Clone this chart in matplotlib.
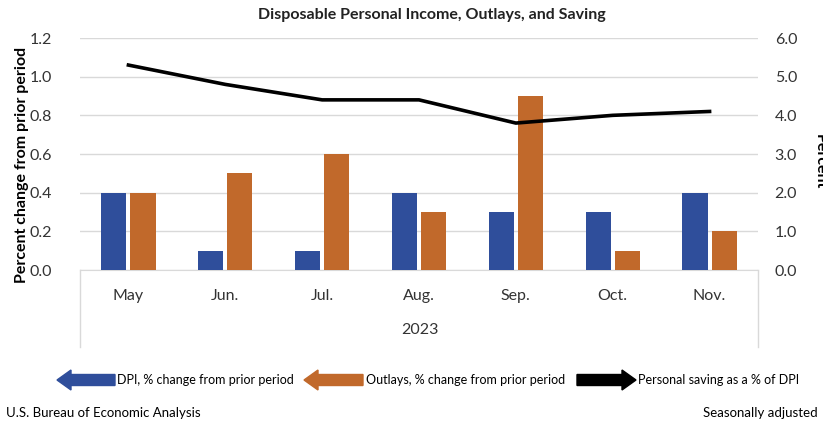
import numpy as np
import matplotlib
matplotlib.use("Agg")
import matplotlib.pyplot as plt
from matplotlib.patches import FancyArrow
from matplotlib.lines import Line2D

plt.rcParams['font.family'] = ['Lato', 'DejaVu Sans']

months = ["May", "Jun.", "Jul.", "Aug.", "Sep.", "Oct.", "Nov."]
year_label = "2023"
dpi_change = [0.4, 0.1, 0.1, 0.4, 0.3, 0.3, 0.4]
outlays_change = [0.4, 0.5, 0.6, 0.3, 0.9, 0.1, 0.2]
saving_rate = [5.3, 4.8, 4.4, 4.4, 3.8, 4.0, 4.1]

left_ticks = [0.0, 0.2, 0.4, 0.6, 0.8, 1.0, 1.2]
right_ticks = [0.0, 1.0, 2.0, 3.0, 4.0, 5.0, 6.0]

BLUE = "#2F4E9B"
ORANGE = "#C1692B"
W, H = 823, 424

fig = plt.figure(figsize=(W / 100, H / 100), dpi=100)
ax = fig.add_axes([80 / W, 1 - 270 / H, 678 / W, 232 / H])
ax2 = ax.twinx()

x = np.arange(len(months))
bw = 0.26
ax.bar(x - bw / 2 - 0.02, dpi_change, bw, color=BLUE, zorder=3)
ax.bar(x + bw / 2 + 0.02, outlays_change, bw, color=ORANGE, zorder=3)
ax2.plot(x, saving_rate, color="black", lw=2.6, zorder=4)

ax.set_xlim(-0.5, len(months) - 0.5)
ax.set_ylim(0, 1.2)
ax2.set_ylim(0, 6.0)
ax.set_yticks(left_ticks)
ax.set_yticklabels([f"{v:.1f}" for v in left_ticks], fontsize=11.5, color="#333333")
ax2.set_yticks(right_ticks)
ax2.set_yticklabels([f"{v:.1f}" for v in right_ticks], fontsize=11.5, color="#333333")
ax.grid(axis="y", color="#D9D9D9", lw=1, zorder=0)
ax.set_xticks(x)
ax.set_xticklabels(months, fontsize=11.5, color="#333333")
ax.tick_params(axis="x", length=0, pad=14)
ax.tick_params(axis="y", length=0, pad=20)
ax2.tick_params(axis="y", length=0, pad=12)

for a in (ax, ax2):
    for s in a.spines.values():
        s.set_visible(False)
ax.spines["bottom"].set_visible(True)
ax.spines["bottom"].set_color("#D9D9D9")

# category group separators below the axis
for xp in (80, 758):
    fig.add_artist(Line2D([xp / W, xp / W], [1 - 270 / H, 1 - 347 / H], color="#D9D9D9", lw=1))
fig.text(420 / W, 1 - 330 / H, year_label, ha="center", va="center", fontsize=11.5, color="#333333")

fig.text(432 / W, 1 - 15 / H, "Disposable Personal Income, Outlays, and Saving",
         ha="center", va="center", fontsize=11.5, fontweight="bold", color="#222222")
fig.text(22 / W, 1 - 165 / H, "Percent change from prior period", rotation=90,
         ha="center", va="center", fontsize=11.5, fontweight="bold")
fig.text(813 / W, 1 - 162 / H, "Percent", rotation=270,
         ha="left", va="center", fontsize=11.5, fontweight="bold")

# legend with arrow markers
ly = 1 - 380 / H
def arrow(x0, x1, color):
    fig.add_artist(FancyArrow(x0 / W, ly, (x1 - x0) / W, 0, width=11 / H,
                              head_width=20 / H, head_length=14 / W,
                              length_includes_head=True, color=color, transform=fig.transFigure))

arrow(115, 57, BLUE)
fig.text(117 / W, ly, "DPI, % change from prior period", ha="left", va="center", fontsize=9)
arrow(363, 304, ORANGE)
fig.text(366 / W, ly, "Outlays, % change from prior period", ha="left", va="center", fontsize=9)
arrow(577, 636, "black")
fig.text(638 / W, ly, "Personal saving as a % of DPI", ha="left", va="center", fontsize=9)

fig.text(6 / W, 1 - 413 / H, "U.S. Bureau of Economic Analysis", ha="left", va="center", fontsize=9.5)
fig.text(818 / W, 1 - 413 / H, "Seasonally adjusted", ha="right", va="center", fontsize=9.5)

fig.savefig("out.png", dpi=100)
